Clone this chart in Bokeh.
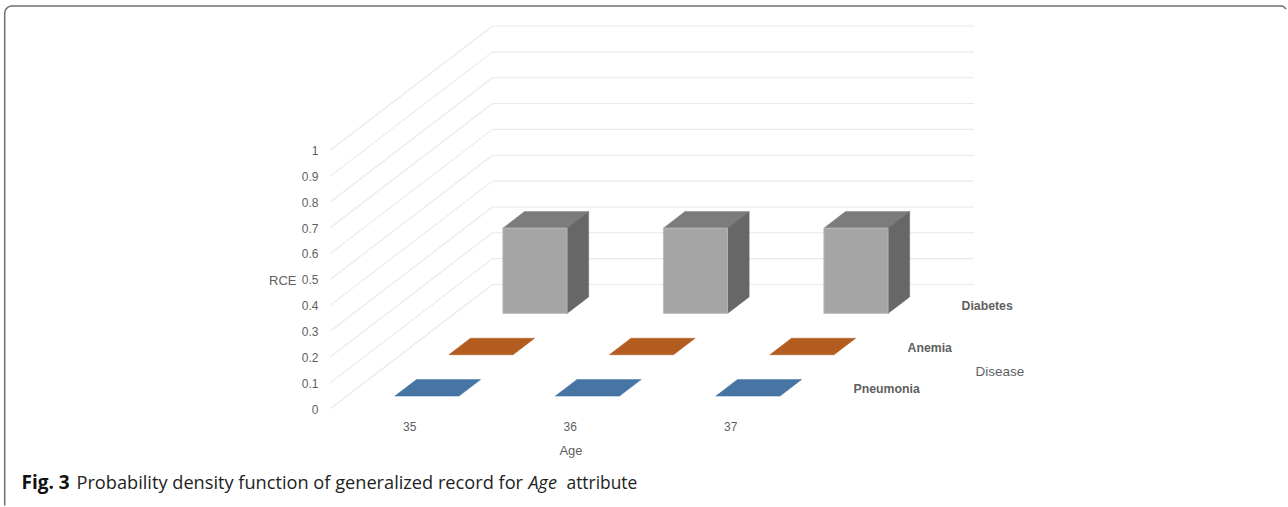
from bokeh.core.properties import value
from bokeh.embed import file_html
from bokeh.models import Range1d
from bokeh.plotting import figure
from bokeh.resources import INLINE

# Chart content
ages = ["35", "36", "37"]
diseases = ["Pneumonia", "Anemia", "Diabetes"]
rce_pneumonia = [0.0, 0.0, 0.0]
rce_anemia = [0.0, 0.0, 0.0]
rce_diabetes = [0.33, 0.33, 0.33]
rce_ticks = [0, 0.1, 0.2, 0.3, 0.4, 0.5, 0.6, 0.7, 0.8, 0.9, 1]
tick_labels = ["0", "0.1", "0.2", "0.3", "0.4", "0.5", "0.6", "0.7", "0.8", "0.9", "1"]

# Oblique projection of (age slot, disease slot, value) onto page pixels
ORIGIN_X, ORIGIN_Y = 330.0, 408.0
AGE_STEP = 160.5
UNIT_Y = 258.5
DEPTH_DX, DEPTH_DY = 162.0, -124.0
BAR_W = 0.40
BAR_D = 0.40


def project(age, depth, val):
    n_d = len(diseases)
    return (
        ORIGIN_X + age * AGE_STEP + depth / n_d * DEPTH_DX,
        ORIGIN_Y - val * UNIT_Y + depth / n_d * DEPTH_DY,
    )


def poly(*corners):
    pts = [project(*c) for c in corners]
    return [q[0] for q in pts], [q[1] for q in pts]


p = figure(
    width=1288, height=507, output_backend="svg", toolbar_location=None,
    x_range=Range1d(0, 1288), y_range=Range1d(507, 0),
    min_border=0, outline_line_color=None, background_fill_color="white",
)
p.axis.visible = False
p.grid.visible = False

# Panel frame: top and left rules with rounded corners
p.line(
    [4.2, 4.2, 4.6, 5.8, 7.5, 10, 1281, 1283, 1285.5],
    [505, 13, 10.5, 8.2, 6.6, 5.6, 5.6, 6, 8.5],
    line_color="#707070", line_width=1.5,
)

# Value gridlines on the side wall and the back wall
n_age, n_dis = len(ages), len(diseases)
wall_xs, wall_ys = [], []
for t in rce_ticks:
    x0, y0 = project(0, 0, t)
    x1, y1 = project(0, n_dis, t)
    x2, y2 = project(n_age, n_dis, t)
    wall_xs.append([x0, x1, x2])
    wall_ys.append([y0, y1, y2])
p.multi_line(wall_xs, wall_ys, line_color="#e9e9e9", line_width=1.1)

# Bars, back row first so nearer rows overlap
series = [
    (2, rce_diabetes, "#a5a5a5", "#7c7c7c", "#676767"),
    (1, rce_anemia, "#b35c20", "#b35c20", "#b35c20"),
    (0, rce_pneumonia, "#4675a3", "#4675a3", "#4675a3"),
]
for d, vals, front, top, side in series:
    for a, v in enumerate(vals):
        x0 = a + 0.5 - BAR_W / 2
        x1 = a + 0.5 + BAR_W / 2
        z0 = d + 0.5 - BAR_D / 2
        z1 = d + 0.5 + BAR_D / 2
        xs, ys = poly((x0, z0, v), (x1, z0, v), (x1, z1, v), (x0, z1, v))
        p.patch(xs, ys, fill_color=top, line_color=top, line_width=0.5)
        if v > 0:
            xs, ys = poly((x1, z0, 0), (x1, z1, 0), (x1, z1, v), (x1, z0, v))
            p.patch(xs, ys, fill_color=side, line_color=side, line_width=0.5)
            xs, ys = poly((x0, z0, 0), (x1, z0, 0), (x1, z0, v), (x0, z0, v))
            p.patch(xs, ys, fill_color=front, line_color="#bdbdbd", line_width=0.8)

LABEL_FONT = value("Liberation Sans")
LABEL_COLOR = "#5f5f5f"

# Value tick labels, right aligned against the wall
p.text(
    [318] * len(rce_ticks), [project(0, 0, t)[1] + 0.5 for t in rce_ticks], text=tick_labels,
    text_font=LABEL_FONT, text_font_size="12px", text_color=LABEL_COLOR,
    text_align="right", text_baseline="middle",
)
# Age labels below the floor
p.text(
    [project(a + 0.5, 0, 0)[0] - 1 for a in range(n_age)], [426] * n_age, text=ages,
    text_font=LABEL_FONT, text_font_size="12px", text_color=LABEL_COLOR,
    text_align="center", text_baseline="middle",
)
# Disease labels along the floor's right edge
p.text(
    [project(n_age, d + 0.5, 0)[0] + 14.5 for d in range(n_dis)],
    [project(n_age, d + 0.5, 0)[1] + 1.2 for d in range(n_dis)], text=diseases,
    text_font=LABEL_FONT, text_font_size="12.3px", text_font_style="bold",
    text_color=LABEL_COLOR, text_align="left", text_baseline="middle",
)
# Axis titles
p.text(
    [296], [279.5], text=["RCE"], text_font=LABEL_FONT, text_font_size="13px",
    text_color=LABEL_COLOR, text_align="right", text_baseline="middle",
)
p.text(
    [570.5], [449.5], text=["Age"], text_font=LABEL_FONT, text_font_size="13px",
    text_color=LABEL_COLOR, text_align="center", text_baseline="middle",
)
p.text(
    [975], [371], text=["Disease"], text_font=LABEL_FONT, text_font_size="13.5px",
    text_color=LABEL_COLOR, text_align="left", text_baseline="middle",
)

# Caption, set in separate runs for the bold and italic parts
CAPTION_FONT = value("Open Sans")
CAPTION_Y = 481
p.text(
    [21], [CAPTION_Y], text=["Fig. 3"], text_font=CAPTION_FONT, text_font_size="19px",
    text_font_style="bold", text_color="#111111", text_baseline="middle",
)
p.text(
    [76], [CAPTION_Y], text=["Probability density function of generalized record for"],
    text_font=CAPTION_FONT, text_font_size="18.2px", text_color="#222222",
    text_baseline="middle",
)
p.text(
    [528], [CAPTION_Y], text=["Age"], text_font=CAPTION_FONT, text_font_size="18px",
    text_font_style="italic", text_color="#222222", text_baseline="middle",
)
p.text(
    [566], [CAPTION_Y], text=["attribute"], text_font=CAPTION_FONT, text_font_size="17.4px",
    text_color="#222222", text_baseline="middle",
)

open("out.html", "w").write(file_html(p, INLINE))
